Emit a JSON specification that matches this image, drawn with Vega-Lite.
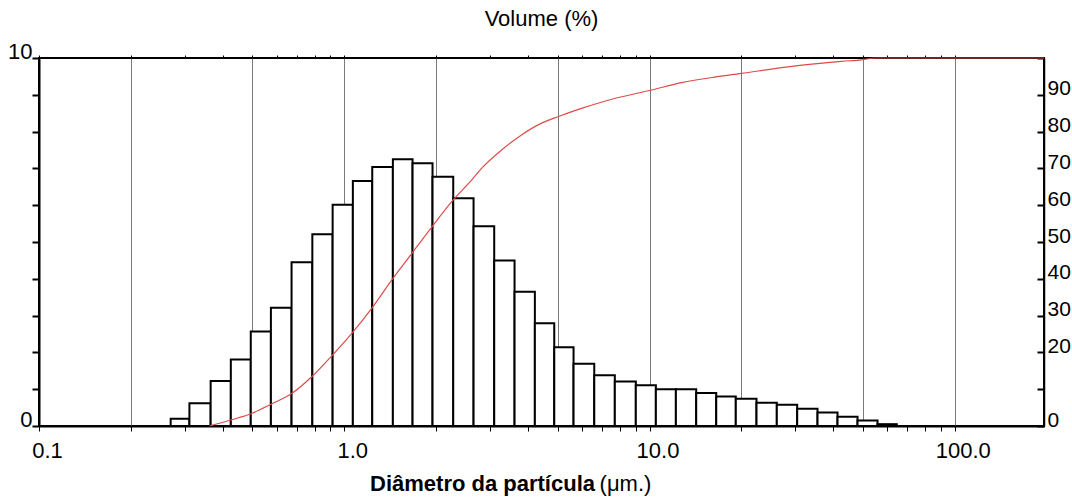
{
  "$schema": "https://vega.github.io/schema/vega-lite/v6.json",
  "autosize": {"type": "none"},
  "padding": {"left": 39, "top": 58, "right": 28, "bottom": 73},
  "width": 1005,
  "height": 368,
  "background": "white",
  "title": {"text": "Volume (%)", "frame": "group", "font": "Liberation Sans, Arial, sans-serif", "fontSize": 22, "fontWeight": "normal", "color": "black", "anchor": "middle", "baseline": "alphabetic", "offset": -8},
  "config": {
    "view": {"stroke": "black", "strokeWidth": 2},
    "axis": {"labelFont": "Liberation Sans, Arial, sans-serif", "titleFont": "Liberation Sans, Arial, sans-serif", "labelColor": "black", "titleColor": "black", "tickColor": "black", "domainColor": "black", "labelFontSize": 22, "titleFontSize": 22}
  },
  "datasets": {
    "bins": [
      {"d0": 0.270, "d1": 0.311, "v": 0.20},
      {"d0": 0.311, "d1": 0.365, "v": 0.62},
      {"d0": 0.365, "d1": 0.425, "v": 1.22},
      {"d0": 0.425, "d1": 0.494, "v": 1.81},
      {"d0": 0.494, "d1": 0.575, "v": 2.57},
      {"d0": 0.575, "d1": 0.672, "v": 3.21},
      {"d0": 0.672, "d1": 0.786, "v": 4.45},
      {"d0": 0.786, "d1": 0.916, "v": 5.21},
      {"d0": 0.916, "d1": 1.067, "v": 6.01},
      {"d0": 1.067, "d1": 1.235, "v": 6.66},
      {"d0": 1.235, "d1": 1.443, "v": 7.04},
      {"d0": 1.443, "d1": 1.674, "v": 7.25},
      {"d0": 1.674, "d1": 1.946, "v": 7.14},
      {"d0": 1.946, "d1": 2.275, "v": 6.77},
      {"d0": 2.275, "d1": 2.652, "v": 6.19},
      {"d0": 2.652, "d1": 3.099, "v": 5.43},
      {"d0": 3.099, "d1": 3.613, "v": 4.50},
      {"d0": 3.613, "d1": 4.211, "v": 3.65},
      {"d0": 4.211, "d1": 4.874, "v": 2.79},
      {"d0": 4.874, "d1": 5.638, "v": 2.14},
      {"d0": 5.638, "d1": 6.591, "v": 1.69},
      {"d0": 6.591, "d1": 7.697, "v": 1.38},
      {"d0": 7.697, "d1": 9.018, "v": 1.21},
      {"d0": 9.018, "d1": 10.49, "v": 1.11},
      {"d0": 10.49, "d1": 12.20, "v": 1.00},
      {"d0": 12.20, "d1": 14.22, "v": 1.00},
      {"d0": 14.22, "d1": 16.54, "v": 0.90},
      {"d0": 16.54, "d1": 19.17, "v": 0.80},
      {"d0": 19.17, "d1": 22.41, "v": 0.74},
      {"d0": 22.41, "d1": 26.12, "v": 0.63},
      {"d0": 26.12, "d1": 30.46, "v": 0.58},
      {"d0": 30.46, "d1": 35.51, "v": 0.47},
      {"d0": 35.51, "d1": 41.29, "v": 0.37},
      {"d0": 41.29, "d1": 48.02, "v": 0.25},
      {"d0": 48.02, "d1": 55.84, "v": 0.15},
      {"d0": 55.84, "d1": 64.57, "v": 0.05}
    ],
    "cum": [
      {"d": 0.362, "c": 0},
      {"d": 0.4275, "c": 1.7},
      {"d": 0.497, "c": 3.4},
      {"d": 0.578, "c": 6.0},
      {"d": 0.672, "c": 8.8},
      {"d": 0.781, "c": 13.3},
      {"d": 0.909, "c": 19.0},
      {"d": 1.057, "c": 25.1},
      {"d": 1.228, "c": 31.9},
      {"d": 1.428, "c": 39.6},
      {"d": 1.661, "c": 46.8},
      {"d": 1.932, "c": 54.0},
      {"d": 2.246, "c": 60.9},
      {"d": 2.612, "c": 66.8},
      {"d": 2.817, "c": 70.0},
      {"d": 3.276, "c": 75.0},
      {"d": 3.808, "c": 79.1},
      {"d": 4.429, "c": 82.3},
      {"d": 5.034, "c": 84.1},
      {"d": 5.987, "c": 86.3},
      {"d": 7.68, "c": 89.0},
      {"d": 9.92, "c": 91.1},
      {"d": 12.73, "c": 93.3},
      {"d": 16.33, "c": 94.8},
      {"d": 20.01, "c": 95.8},
      {"d": 27.06, "c": 97.4},
      {"d": 34.71, "c": 98.4},
      {"d": 42.56, "c": 99.1},
      {"d": 49.47, "c": 99.5},
      {"d": 55.0, "c": 100},
      {"d": 196, "c": 100}
    ]
  },
  "layer": [
    {
      "data": {"name": "bins"},
      "mark": {"type": "rect", "fill": "white", "stroke": "black", "strokeWidth": 2},
      "encoding": {
        "x": {"field": "d0", "type": "quantitative",
          "scale": {"type": "log", "domain": [0.1, 196], "nice": false},
          "axis": {"orient": "bottom",
            "values": [0.1,0.2,0.3,0.4,0.5,0.6,0.7,0.8,0.9,1,2,3,4,5,6,7,8,9,10,20,30,40,50,60,70,80,90,100],
            "labelExpr": "datum.value==0.1?'0.1':datum.value==1?'1.0':datum.value==10?'10.0':datum.value==100?'100.0':''",
            "labelOverlap": false, "labelFlush": false, "labelOffset": 8, "labelAlign": "center",
            "labelBaseline": "alphabetic", "labelPadding": 26,
            "tickSize": 5, "tickWidth": 1, "domainWidth": 2,
            "grid": true, "gridColor": "#7a7a7a", "gridWidth": 1,
            "gridOpacity": {"condition": {"test": "indexof([0.2,0.5,1,2,5,10,20,50,100], datum.value) >= 0", "value": 1}, "value": 0},
            "title": "Diâmetro da partícula", "titleFontWeight": "bold", "titleX": 443, "titleY": 64, "titleBaseline": "alphabetic", "titleAlign": "center"}},
        "x2": {"field": "d1"},
        "y": {"field": "v", "type": "quantitative",
          "scale": {"domain": [0, 10], "nice": false},
          "axis": {"orient": "left", "values": [0,1,2,3,4,5,6,7,8,9,10],
            "labelExpr": "datum.value==0?'0':datum.value==10?'10':''",
            "labelBaseline": "alphabetic", "labelPadding": 0, "labelOverlap": false, "labelFlush": false,
            "tickSize": 7, "tickWidth": 2, "domainWidth": 2, "grid": false, "title": null}},
        "y2": {"datum": 0}
      }
    },
    {
      "data": {"name": "cum"},
      "mark": {"type": "line", "color": "#e04a4a", "strokeWidth": 1.2, "interpolate": "monotone"},
      "encoding": {
        "x": {"field": "d", "type": "quantitative",
          "scale": {"type": "log", "domain": [0.1, 196], "nice": false},
          "axis": {"orient": "top",
            "values": [0.1,0.2,0.3,0.4,0.5,0.6,0.7,0.8,0.9,1,2,3,4,5,6,7,8,9,10,20,30,40,50,60,70,80,90,100],
            "labels": false, "grid": false, "domain": false, "tickSize": 3, "title": null}},
        "y": {"field": "c", "type": "quantitative",
          "scale": {"domain": [0, 100], "nice": false},
          "axis": {"orient": "right", "values": [0,10,20,30,40,50,60,70,80,90,100],
            "labelExpr": "datum.value==10||datum.value==100?'':datum.label",
            "labelBaseline": "alphabetic", "labelPadding": 10, "labelOverlap": false, "labelFlush": false, "labelFontSize": 21,
            "tickSize": -7, "tickWidth": 2, "domainWidth": 1.5, "grid": false,
            "title": "(μm.)", "titleFontWeight": "normal", "titleAngle": 0, "titleX": -419, "titleY": 432, "titleBaseline": "alphabetic", "titleAlign": "center"}}
      }
    }
  ],
  "resolve": {"scale": {"y": "independent"}, "axis": {"x": "independent", "y": "independent"}}
}
